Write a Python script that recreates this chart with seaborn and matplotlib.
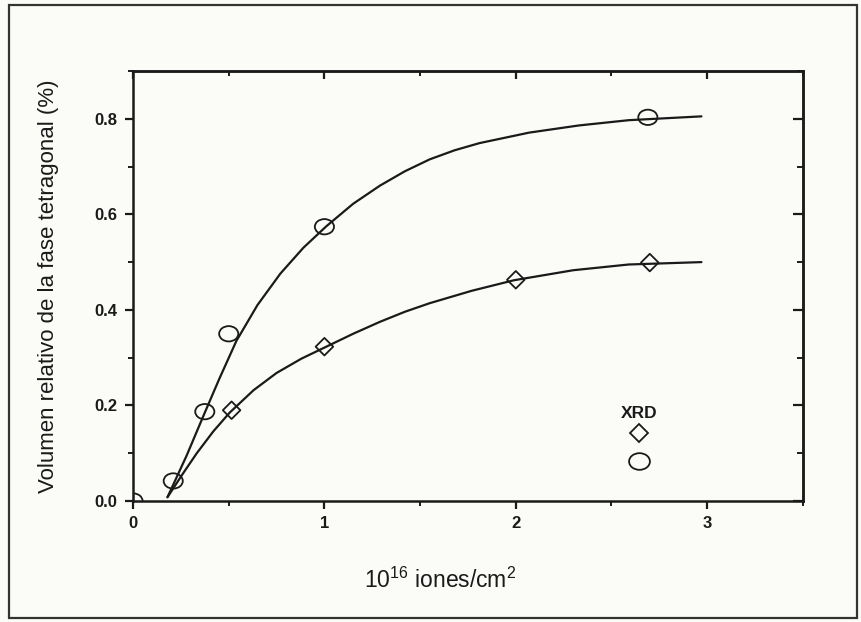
import matplotlib
matplotlib.use("Agg")
import matplotlib.pyplot as plt
from matplotlib.path import Path
from matplotlib.patches import Rectangle
from matplotlib.ticker import MultipleLocator, NullFormatter
import seaborn as sns

# measured points (XRD)
dose_circ = [0.0, 0.21, 0.375, 0.5, 1.0, 2.69]
frac_circ = [0.0, 0.042, 0.187, 0.35, 0.574, 0.803]
dose_diam = [0.515, 1.0, 2.0, 2.70]
frac_diam = [0.19, 0.323, 0.463, 0.499]

# fitted curves
fit_up_x = [0.18, 0.28, 0.375, 0.45, 0.54, 0.65, 0.77, 0.89, 1.01, 1.15, 1.29, 1.42,
            1.55, 1.68, 1.81, 2.07, 2.33, 2.59, 2.97]
fit_up_y = [0.008, 0.095, 0.185, 0.255, 0.335, 0.41, 0.476, 0.53, 0.575, 0.622, 0.66, 0.69,
            0.715, 0.734, 0.749, 0.771, 0.786, 0.797, 0.805]
fit_lo_x = [0.18, 0.26, 0.333, 0.42, 0.505, 0.63, 0.75, 0.88, 1.01, 1.15, 1.29, 1.42, 1.55,
            1.77, 1.99, 2.3, 2.59, 2.97]
fit_lo_y = [0.008, 0.057, 0.10, 0.146, 0.185, 0.232, 0.268, 0.298, 0.323, 0.35, 0.375, 0.396,
            0.414, 0.440, 0.462, 0.483, 0.495, 0.50]

xticks = [0, 1, 2, 3]
xticklabels = ["0", "1", "2", "3"]
yticks = [0.0, 0.2, 0.4, 0.6, 0.8]
yticklabels = ["0.0", "0.2", "0.4", "0.6", "0.8"]

sns.set_theme(style="ticks")
plt.rcParams["font.family"] = ["Liberation Sans", "DejaVu Sans"]
plt.rcParams["mathtext.fontset"] = "custom"
plt.rcParams["mathtext.rm"] = "Liberation Sans"
plt.rcParams["mathtext.it"] = "Liberation Sans"

ink = "#1a1a1a"

# slightly wide ellipse, like the scanned circles
circ = Path.unit_circle()
ellipse = Path(circ.vertices * [1.25, 1.0], circ.codes)

fig = plt.figure(figsize=(8.61, 6.22), dpi=100)
fig.patch.set_facecolor("#fbfbf8")
fig.patches.append(Rectangle((0.01, 0.007), 0.985, 0.985, transform=fig.transFigure,
                             fill=False, edgecolor="#333333", linewidth=1.6))
ax = fig.add_axes([0.1545, 0.1945, 0.778, 0.6914])
ax.set_facecolor("#fbfbf8")

sns.lineplot(x=fit_up_x, y=fit_up_y, sort=False, color=ink, linewidth=1.6, ax=ax)
sns.lineplot(x=fit_lo_x, y=fit_lo_y, sort=False, color=ink, linewidth=1.6, ax=ax)
sns.scatterplot(x=dose_circ, y=frac_circ, marker=ellipse, s=190, facecolor="none",
                edgecolor=ink, linewidth=1.3, ax=ax, zorder=3)
sns.scatterplot(x=dose_diam, y=frac_diam, marker="D", s=80, facecolor="none",
                edgecolor=ink, linewidth=1.3, ax=ax, zorder=3)

ax.set_xlim(0, 3.5)
ax.set_ylim(0, 0.9)
ax.set_xticks(xticks)
ax.set_xticklabels(xticklabels, fontweight="bold", fontsize=12, color=ink)
ax.set_yticks(yticks)
ax.set_yticklabels(yticklabels, fontweight="bold", fontsize=12, color=ink)
ax.xaxis.set_minor_locator(MultipleLocator(0.5))
ax.yaxis.set_minor_locator(MultipleLocator(0.1))
ax.tick_params(which="major", direction="out", length=6, width=1.6, color=ink, pad=5)
ax.tick_params(which="minor", direction="out", length=3.5, width=1.4, color=ink)

for side in ["top", "right", "bottom", "left"]:
    ax.spines[side].set_visible(True)
    ax.spines[side].set_linewidth(1.8)
    ax.spines[side].set_color(ink)

top = ax.secondary_xaxis("top")
top.set_xticks(xticks)
top.xaxis.set_minor_locator(MultipleLocator(0.5))
top.xaxis.set_major_formatter(NullFormatter())
top.tick_params(which="major", direction="in", length=6, width=1.6, color=ink)
top.tick_params(which="minor", direction="in", length=3.5, width=1.4, color=ink)
top.spines["top"].set_linewidth(1.8)

right = ax.secondary_yaxis("right")
right.set_yticks(yticks)
right.yaxis.set_minor_locator(MultipleLocator(0.1))
right.yaxis.set_major_formatter(NullFormatter())
right.tick_params(which="major", direction="in", length=7, width=1.6, color=ink)
right.tick_params(which="minor", direction="in", length=4, width=1.4, color=ink)
right.spines["right"].set_linewidth(1.8)

ax.set_xlabel(r"10$^{16}$ iones/cm$^{2}$", fontsize=16.5, color=ink, labelpad=26)
ax.xaxis.label.set_x(0.458)
ax.set_ylabel("Volumen relativo de la fase tetragonal (%)", fontsize=16,
              color=ink, labelpad=26)

h1 = plt.Line2D([], [], linestyle="none", marker="D", markersize=9, markerfacecolor="none",
                markeredgecolor=ink, markeredgewidth=1.3)
h2 = plt.Line2D([], [], linestyle="none", marker=ellipse, markersize=15, markerfacecolor="none",
                markeredgecolor=ink, markeredgewidth=1.3)
leg = ax.legend([h1, h2], ["", ""], title="XRD", frameon=False, loc="center",
                bbox_to_anchor=(0.755, 0.14), handletextpad=0, handlelength=1.5,
                handleheight=1.8, labelspacing=0.25, borderpad=0, fontsize=12)
leg.get_title().set_fontweight("bold")
leg.get_title().set_fontsize(12.5)
leg.get_title().set_color(ink)

fig.savefig("out.png", dpi=100, facecolor=fig.get_facecolor())
